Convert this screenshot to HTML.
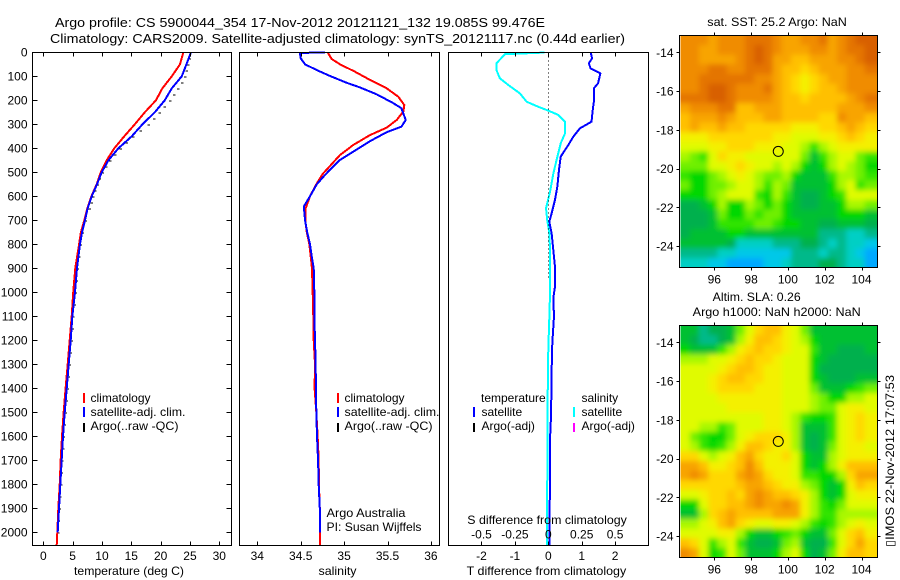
<!DOCTYPE html>
<html lang="en">
<head>
<meta charset="utf-8">
<title>Argo profile 5900044_354</title>
<style>
html,body{margin:0;padding:0;background:#fff;}
#chart{display:block;width:900px;height:580px;}
text{font-family:"Liberation Sans",sans-serif;font-size:12px;fill:#000;}
</style>
</head>
<body>
<svg id="chart" xmlns="http://www.w3.org/2000/svg" width="900" height="580" viewBox="0 0 900 580">
  <defs>
    <filter id="smooth" filterUnits="userSpaceOnUse" x="600" y="0" width="300" height="580"><feGaussianBlur stdDeviation="2.6"/></filter>
    <clipPath id="clip-sst"><rect x="680.5" y="36" width="197" height="231"/></clipPath>
    <clipPath id="clip-sla"><rect x="680.5" y="326" width="197" height="231"/></clipPath>
  </defs>
  <rect x="0" y="0" width="900" height="580" fill="#fff"/>

  <text x="55" y="27" font-size="13" textLength="490" lengthAdjust="spacingAndGlyphs" style="font-size:13px">Argo profile: CS 5900044_354 17-Nov-2012 20121121_132 19.085S 99.476E</text>
  <text x="50" y="43" textLength="575" lengthAdjust="spacingAndGlyphs" style="font-size:13px">Climatology: CARS2009. Satellite-adjusted climatology: synTS_20121117.nc (0.44d earlier)</text>

  <g id="heat-sst" clip-path="url(#clip-sst)"><g id="heat-sst-inner" filter="url(#smooth)"></g></g>
  <g id="heat-sla" clip-path="url(#clip-sla)"><g id="heat-sla-inner" filter="url(#smooth)"></g></g>

  <g id="series" fill="none"></g>
  <g id="axes"></g>

  <text x="74" y="575" textLength="110" lengthAdjust="spacingAndGlyphs">temperature (deg C)</text>
  <text x="318.5" y="575" textLength="38" lengthAdjust="spacingAndGlyphs">salinity</text>
  <text x="466.7" y="575" textLength="159.5" lengthAdjust="spacingAndGlyphs">T difference from climatology</text>
  <text x="467.3" y="524" textLength="159.5" lengthAdjust="spacingAndGlyphs">S difference from climatology</text>

  <g>
    <rect x="83" y="393" width="2" height="10" fill="#f00"/>
    <rect x="83" y="407" width="2" height="10" fill="#00f"/>
    <rect x="83" y="423" width="2" height="9" fill="#000"/>
    <text x="90.5" y="402">climatology</text>
    <text x="90.5" y="416" textLength="95" lengthAdjust="spacingAndGlyphs">satellite-adj. clim.</text>
    <text x="90.5" y="430" textLength="88" lengthAdjust="spacingAndGlyphs">Argo(..raw -QC)</text>
  </g>
  <g>
    <rect x="337" y="393" width="2" height="10" fill="#f00"/>
    <rect x="337" y="407" width="2" height="10" fill="#00f"/>
    <rect x="337" y="423" width="2" height="9" fill="#000"/>
    <text x="344.5" y="402">climatology</text>
    <text x="344.5" y="416" textLength="95" lengthAdjust="spacingAndGlyphs">satellite-adj. clim.</text>
    <text x="344.5" y="430" textLength="88" lengthAdjust="spacingAndGlyphs">Argo(..raw -QC)</text>
  </g>
  <text x="326.5" y="517" textLength="79" lengthAdjust="spacingAndGlyphs">Argo Australia</text>
  <text x="326.5" y="531" textLength="95" lengthAdjust="spacingAndGlyphs">PI: Susan Wijffels</text>
  <g>
    <rect x="473" y="407" width="2" height="10" fill="#00f"/>
    <rect x="473" y="423" width="2" height="9" fill="#000"/>
    <rect x="573" y="407" width="2" height="10" fill="#0ff"/>
    <rect x="573" y="423" width="2" height="9" fill="#f0f"/>
    <text x="481" y="402">temperature</text>
    <text x="481.5" y="416">satellite</text>
    <text x="481.5" y="430">Argo(-adj)</text>
    <text x="581.5" y="402">salinity</text>
    <text x="581.5" y="416">satellite</text>
    <text x="581.5" y="430">Argo(-adj)</text>
  </g>

  <text x="707.3" y="26" textLength="139.5" lengthAdjust="spacingAndGlyphs">sat. SST: 25.2 Argo: NaN</text>
  <text x="712.7" y="301" textLength="88" lengthAdjust="spacingAndGlyphs">Altim. SLA: 0.26</text>
  <text x="692.7" y="316" textLength="168" lengthAdjust="spacingAndGlyphs">Argo h1000: NaN h2000: NaN</text>
  <text transform="translate(894,547) rotate(-90)" textLength="172" lengthAdjust="spacingAndGlyphs" font-family="'Liberation Sans','DejaVu Sans',sans-serif">▯IMOS 22-Nov-2012 17:07:53</text>
</svg>

<script>
// ---------- profile depths and series ----------
const climTempDepth = [0,50,100,150,200,250,300,350,400,450,500,550,600,650,700,750,800,900,1000,1100,1200,1300,1400,1500,1600,1700,1800,1900,2000,2056];
const climTemp = [23.87,23.3,21.9,20.3,19.2,17.3,15.6,13.8,12.1,10.8,9.8,9.1,8.2,7.5,7.0,6.4,6.1,5.45,5.1,4.84,4.5,4.16,3.8,3.47,3.19,2.96,2.8,2.56,2.39,2.28];
const satTempDepth = [0,50,100,150,200,250,300,350,400,450,500,550,600,650,700,750,800,900,1000,1100,1200,1300,1400,1500,1600,1700,1800,1900,2000];
const satTemp = [25.17,24.4,23.6,21.9,20.7,19.0,16.9,15.07,12.8,11.1,9.95,9.15,8.25,7.56,7.1,6.6,6.25,5.74,5.4,4.95,4.67,4.33,3.99,3.65,3.36,3.13,2.9,2.68,2.45];
const argoTempDepth = [25,50,75,100,125,150,175,200,225,250,275,300,325,350,375,400,425,450,475,500,525,550,575,600,625,650,700,750,800,850,900,950,1000,1050,1100,1150,1200,1250,1300,1350,1400,1450,1500,1550,1600,1650,1700,1750,1800,1850,1900,1950,2000];
const argoTemp = [24.9,24.7,24.4,24.15,23.6,23.0,22.3,21.6,20.7,19.8,18.9,17.9,16.6,15.3,14.2,13.2,12.2,11.4,10.7,10.1,9.6,9.2,8.85,8.5,8.2,7.9,7.2,6.7,6.35,6.05,5.85,5.65,5.5,5.3,5.1,4.95,4.8,4.62,4.45,4.28,4.1,3.95,3.78,3.62,3.48,3.35,3.2,3.1,2.98,2.88,2.75,2.6,2.5];

const climSalDepth = [0,28,50,81,115,150,185,220,247,282,314,345,386,428,507,550,600,650,700,750,800,900,1000,1100,1200,1300,1400,1500,1600,1700,1800,1900,2000,2056];
const climSal = [34.81,34.857,34.953,35.126,35.298,35.49,35.624,35.694,35.682,35.606,35.49,35.298,35.106,34.953,34.753,34.68,34.607,34.557,34.553,34.57,34.6,34.63,34.638,34.645,34.65,34.665,34.66,34.68,34.695,34.707,34.71,34.72,34.725,34.725];
const satSalDepth = [0,3,25,50,74,99,127,146,175,212,233,282,310,333,370,414,449,511,550,600,640,660,700,750,800,850,900,1000,1100,1200,1300,1400,1500,1600,1700,1800,1900,2000];
const satSal = [34.78,34.49,34.5,34.55,34.684,34.84,35.03,35.18,35.375,35.567,35.66,35.71,35.66,35.49,35.3,35.106,34.95,34.78,34.685,34.607,34.54,34.54,34.55,34.575,34.607,34.627,34.65,34.657,34.657,34.665,34.672,34.676,34.68,34.688,34.7,34.707,34.72,34.725];

const diffTempDepth = [3,25,46,67,88,129,150,199,247,289,317,352,386,435,490,560,615,671,706,754,824,893,977,1024,1100,1212,1324,1436,1519,1615,1810,1990,2056];
const diffTemp = [1.275,1.31,1.215,1.265,1.56,1.49,1.365,1.37,1.325,1.295,0.946,0.746,0.6,0.37,0.32,0.27,0.2,0.1,0.03,0.1,0.15,0.2,0.2,0.15,0.17,0.12,0.1,0.09,0.08,0.05,0.05,0.03,0.03];
const diffSalDepth = [1,8,46,74,108,136,171,206,227,243,261,289,338,379,435,504,581,650,699,754,824,1000,1100,1237,1446,1810,1990,2056];
const diffSal = [-0.03,-0.325,-0.388,-0.388,-0.363,-0.30,-0.213,-0.162,-0.075,0,0.075,0.125,0.125,0.093,0.068,0.038,0.013,-0.017,-0.008,0.008,0.013,0.013,0.008,0,-0.005,-0.008,-0.008,-0.008];

// ---------- tick labels ----------
const depthTicks = [0,100,200,300,400,500,600,700,800,900,1000,1100,1200,1300,1400,1500,1600,1700,1800,1900,2000];
const tempTicks = [0,5,10,15,20,25,30];
const salTicks = [34,34.5,35,35.5,36];
const diffTempTicks = [-2,-1,0,1,2];
const diffSalTicks = [-0.5,-0.25,0,0.25,0.5];
const lonTicks = [96,98,100,102,104];
const latTicks = [-14,-16,-18,-20,-22,-24];

// ---------- map values (colour-level index, one row per 0.5 deg latitude, north to south) ----------
const mapPalette = ['#00a8ff','#00c8e8','#00cfc4','#00b98a','#00b04e','#00c030','#00d800','#30e400','#70f000','#a8f800','#e0fb00','#f4f000','#ffd800','#ffc000','#f8a400','#f08c00','#e47400','#d86000'];
const sstLevels = [
[15,15,15,14,15,15,15,16,16,16,15,14,14,15,15,16,14,15,16,17,17],
[15,15,14,14,15,15,15,16,17,16,15,14,14,14,15,15,14,15,16,16,17],
[15,15,14,14,14,14,15,16,17,16,14,14,13,13,14,14,14,15,15,16,17],
[15,15,15,16,16,15,15,16,16,16,14,13,13,12,13,14,14,14,15,15,16],
[15,15,16,16,16,16,16,16,15,15,14,13,12,11,12,13,14,14,15,15,15],
[15,15,16,17,17,16,15,15,15,16,14,13,12,11,12,13,13,14,15,15,15],
[16,16,16,17,17,16,15,15,15,15,14,13,13,12,13,13,13,13,14,15,16],
[14,15,15,15,16,16,13,13,14,14,14,13,13,13,13,13,13,14,14,14,15],
[13,14,14,14,15,14,13,13,13,14,14,13,13,13,13,12,12,15,14,14,13],
[13,14,13,13,14,13,13,12,12,12,12,12,11,11,11,12,12,13,14,13,12],
[11,11,11,12,12,12,12,12,12,12,11,11,10,10,10,11,11,12,13,12,11],
[10,10,10,11,11,12,12,12,11,11,11,10,10,9,7,9,10,11,11,11,11],
[9,8,7,10,12,11,11,10,10,10,10,10,10,8,5,7,9,10,10,8,7],
[8,8,8,10,10,11,12,11,10,10,9,10,9,6,5,6,9,10,9,8,6],
[7,6,6,8,9,10,11,10,9,8,8,9,6,5,5,5,7,9,9,8,7],
[8,6,6,8,8,9,10,10,9,7,9,8,5,5,5,5,6,9,10,7,8],
[6,6,6,8,9,10,10,10,7,6,9,7,5,4,4,5,6,7,10,10,10],
[4,4,5,6,9,6,6,9,8,6,8,6,5,4,4,5,5,6,9,9,8],
[4,4,4,5,8,6,6,8,7,8,8,6,5,5,5,5,5,6,6,6,5],
[4,4,4,5,7,7,7,7,8,8,7,6,6,5,5,4,4,5,5,5,4],
[4,5,5,5,5,6,6,5,5,5,5,5,5,5,5,3,3,3,2,2,3],
[5,5,5,5,5,4,2,2,2,2,3,3,3,4,4,3,2,3,2,2,1],
[3,3,3,3,2,2,1,1,1,1,1,1,3,3,3,2,3,3,2,1,0],
[2,2,2,1,1,0,0,0,0,1,1,2,3,3,3,4,4,3,2,2,0]
];
const slaLevels = [
[5,5,3,4,4,5,8,10,12,13,13,11,10,8,5,5,5,5,5,5,5],
[5,4,3,3,4,5,9,11,13,13,12,11,10,9,6,5,5,5,5,5,5],
[6,5,5,5,7,9,11,12,13,12,12,11,10,10,7,5,5,4,4,4,5],
[9,9,9,10,10,11,12,13,12,12,11,10,10,10,6,5,4,4,4,4,4],
[10,10,10,10,11,12,13,13,12,11,11,10,10,10,6,4,4,4,4,4,4],
[10,10,10,11,12,13,13,12,12,11,11,10,10,10,6,5,4,4,4,5,5],
[10,10,10,11,12,12,12,12,11,11,11,10,10,10,8,5,5,5,6,7,8],
[10,10,10,10,11,11,11,11,11,11,11,10,10,10,9,8,6,6,9,9,10],
[10,10,10,10,10,11,11,11,11,11,11,10,10,10,9,8,8,10,11,11,10],
[10,10,10,10,10,10,10,10,10,11,11,10,9,7,6,6,7,10,11,12,11],
[10,10,9,9,7,8,10,10,10,11,11,10,9,5,5,5,7,10,11,12,11],
[10,8,7,6,6,8,10,11,12,12,12,11,9,5,4,5,7,10,11,12,11],
[10,9,7,6,7,9,11,13,13,12,11,11,9,5,4,5,8,10,11,11,10],
[12,12,10,9,10,11,13,14,12,11,11,12,10,6,5,5,9,10,11,11,11],
[14,14,13,11,11,12,13,15,13,11,11,11,10,6,5,6,9,11,13,13,13],
[14,15,14,12,12,12,14,15,14,12,11,11,10,7,7,6,6,9,12,14,14],
[12,12,12,12,12,12,13,14,14,13,12,11,11,9,8,6,5,6,11,13,12],
[10,10,11,12,12,13,12,14,15,14,13,13,12,11,9,6,5,6,10,11,11],
[6,6,10,12,12,13,13,14,15,14,14,15,14,11,9,7,6,8,10,10,10],
[5,5,9,12,13,14,13,13,13,13,14,14,14,11,9,7,7,9,9,9,9],
[9,9,10,11,13,14,12,11,10,10,11,11,10,9,7,6,7,9,10,11,10],
[10,10,10,10,11,11,9,6,5,5,6,7,8,6,5,5,8,10,12,13,11],
[13,12,10,7,9,10,7,5,4,4,5,8,9,5,4,4,7,10,12,14,12],
[15,14,10,6,7,10,8,5,5,5,6,9,10,6,4,5,8,11,13,13,12]
];
const argoLon = 99.476;
const argoLat = -19.085;
const firstCellLon = 94.17;
const firstCellLat = -13.12;
const cellStep = 0.5;

// ---------- scales ----------
const NS = 'http://www.w3.org/2000/svg';
const yDepth = d => 52.3 + 0.24 * d;
const xTemp = v => 43.3 + 5.867 * v;
const xSal = v => 257.3 + 86.8 * (v - 34);
const xDiffT = v => 548.3 + 33.4 * v;
const xDiffS = v => 548.3 + 133.6 * v;
const xLon = v => 714.3 + 18.4 * (v - 96);
const yLat = (v, off) => off + 52.3 + 19.37 * (-14 - v);

function node(parent, tag, attrs) {
  const el = document.createElementNS(NS, tag);
  for (const k in attrs) el.setAttribute(k, attrs[k]);
  parent.appendChild(el);
  return el;
}

// ---------- heat maps ----------
function drawMap(innerId, levels, off, cellName) {
  const g = document.getElementById(innerId);
  levels.forEach((row, j) => {
    row.forEach((val, i) => {
      let x0 = xLon(firstCellLon + i * cellStep), x1 = xLon(firstCellLon + (i + 1) * cellStep);
      let y0 = yLat(firstCellLat - j * cellStep, off), y1 = yLat(firstCellLat - (j + 1) * cellStep, off);
      if (i === 0) x0 -= 12;
      if (i === row.length - 1) x1 += 12;
      if (j === 0) y0 -= 12;
      if (j === levels.length - 1) y1 += 12;
      const idx = Math.max(0, Math.min(mapPalette.length - 1, Math.round(val)));
      const r = node(g, 'rect', {x: x0, y: y0, width: x1 - x0 + 0.6, height: y1 - y0 + 0.6, fill: mapPalette[idx]});
      
      
    });
  });
}
drawMap('heat-sst-inner', sstLevels, 0, 'sst-cell');
drawMap('heat-sla-inner', slaLevels, 290, 'sla-cell');

// ---------- series ----------
const seriesG = document.getElementById('series');
function linePath(depths, vals, xf) {
  return vals.map((v, i) => (i ? 'L' : 'M') + xf(v).toFixed(2) + ' ' + yDepth(depths[i]).toFixed(2)).join('');
}
function addLine(name, depths, vals, xf, color, w) {
  const p = node(seriesG, 'path', {d: linePath(depths, vals, xf), stroke: color, 'stroke-width': w, fill: 'none', 'stroke-linejoin': 'round', 'shape-rendering': 'crispEdges'});
  
  
}
argoTemp.forEach((v, i) => {
  const d = node(seriesG, 'rect', {x: xTemp(v) - 1, y: yDepth(argoTempDepth[i]), width: 2.5, height: 1, fill: '#000', 'shape-rendering': 'crispEdges'});
  
  
});
addLine('climatology-temperature-line', climTempDepth, climTemp, xTemp, '#f00', 2);
addLine('satellite-temperature-line', satTempDepth, satTemp, xTemp, '#00f', 2);
addLine('climatology-salinity-line', climSalDepth, climSal, xSal, '#f00', 2);
addLine('satellite-salinity-line', satSalDepth, satSal, xSal, '#00f', 2);
addLine('satellite-t-difference-line', diffTempDepth, diffTemp, xDiffT, '#00f', 2);
addLine('satellite-s-difference-line', diffSalDepth, diffSal, xDiffS, '#0ff', 2);

// ---------- axes ----------
const axesG = document.getElementById('axes');
function tick(x1, y1, x2, y2) {
  const t = node(axesG, 'line', {x1: x1, y1: y1, x2: x2, y2: y2, stroke: '#000', 'stroke-width': 1, 'shape-rendering': 'crispEdges'});
  
  
}
function label(x, y, txt, anchor) {
  const t = node(axesG, 'text', {x: x, y: y, 'text-anchor': anchor});
  t.textContent = txt;
  
  
}
function frame(x0, y0, x1, y1) {
  const f = node(axesG, 'rect', {x: x0, y: y0, width: x1 - x0, height: y1 - y0, fill: 'none', stroke: '#000', 'stroke-width': 1, 'shape-rendering': 'crispEdges'});
  
  
}
const snap = v => Math.round(v) + 0.5;
const TOP = 52.5, BOT = 545.5;

// zero line in the difference panel
const zeroLine = node(axesG, 'line', {x1: snap(xDiffT(0)), y1: TOP, x2: snap(xDiffT(0)), y2: 280, stroke: '#000', 'stroke-width': 1, 'stroke-dasharray': '1 3', 'shape-rendering': 'crispEdges'});



frame(32.5, TOP, 231.5, BOT);
frame(239.5, TOP, 439.5, BOT);
frame(448.5, TOP, 648.5, BOT);

depthTicks.forEach(d => {
  const y = snap(yDepth(d));
  tick(32.5, y, 37.5, y);
  tick(226.5, y, 231.5, y);
  label(27.5, yDepth(d) + 4, String(d), 'end');
});
function xAxis(ticks, xf) {
  ticks.forEach(v => {
    const x = snap(xf(v));
    tick(x, TOP, x, TOP + 4);
    tick(x, BOT, x, BOT - 4);
    label(xf(v), 560, String(v), 'middle');
  });
}
xAxis(tempTicks, xTemp);
xAxis(salTicks, xSal);
xAxis(diffTempTicks, xDiffT);
diffSalTicks.forEach(v => {
  label(xDiffS(v), 538.7, String(v), 'middle');
});

// map axes
function mapAxes(off) {
  const t = 35.5 + off, b = 267.5 + off, l = 679.5, r = 877.5;
  frame(l, t, r, b);
  lonTicks.forEach(v => {
    const x = snap(xLon(v));
    tick(x, t, x, t - 3);
    tick(x, b, x, b + 3);
    label(xLon(v), 283.5 + off, String(v), 'middle');
  });
  latTicks.forEach(v => {
    const y = snap(yLat(v, off));
    tick(l, y, l - 3, y);
    tick(r, y, r + 3, y);
    label(673.5, yLat(v, off) + 4.5, String(v), 'end');
  });
  const c = node(axesG, 'circle', {cx: xLon(argoLon), cy: yLat(argoLat, off) + 0.6, r: 5, fill: 'none', stroke: '#000', 'stroke-width': 1});
  
  
}
mapAxes(0);
mapAxes(290);
</script>
</body>
</html>
